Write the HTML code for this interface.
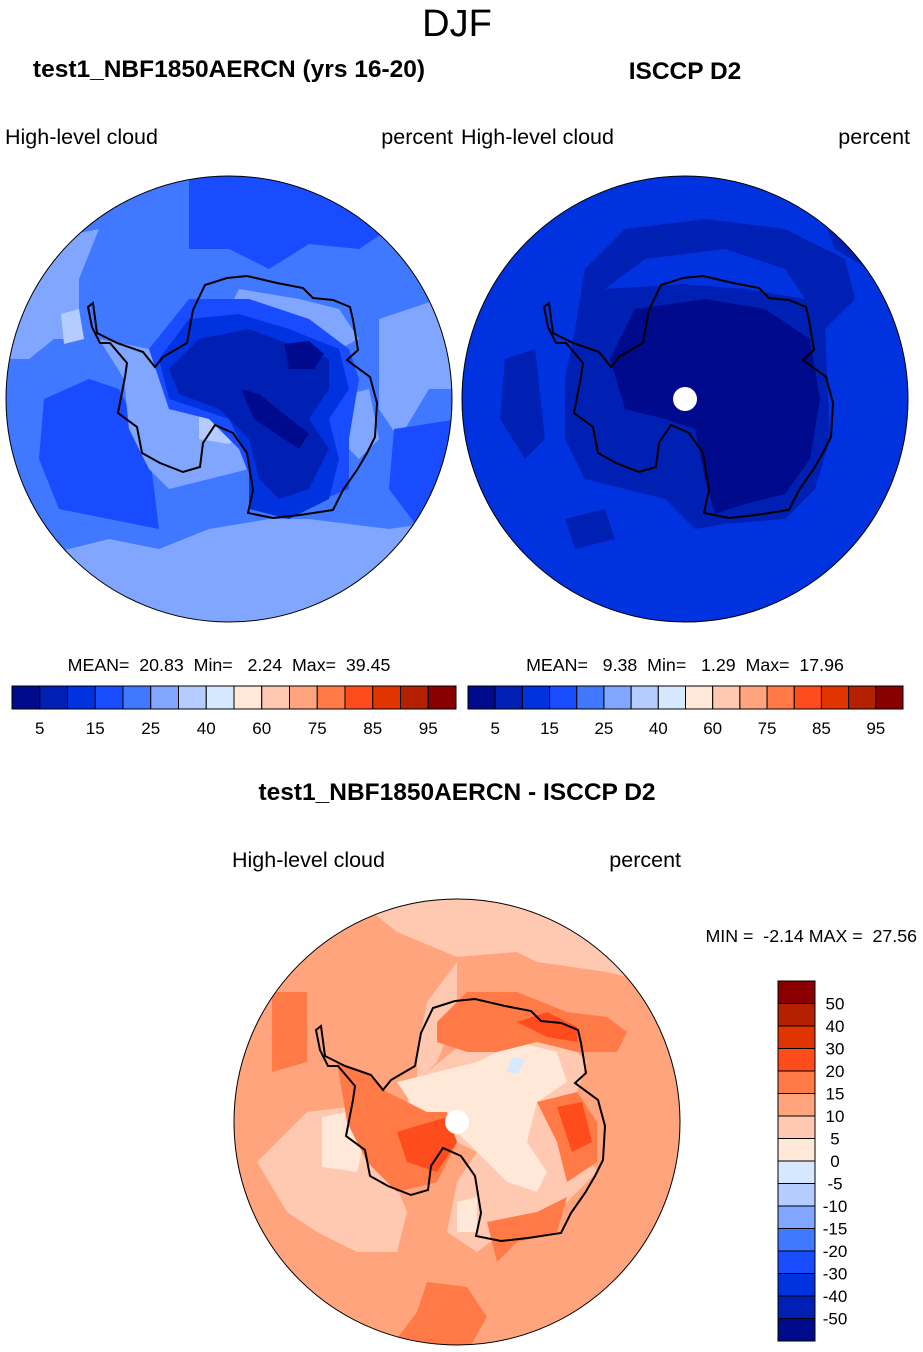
<!DOCTYPE html>
<html><head><meta charset="utf-8"><style>
body{margin:0;background:#fff;}
svg{display:block;font-family:"Liberation Sans",Arial,sans-serif;}
</style></head><body>
<svg id="fig" width="923" height="1352" viewBox="0 0 923 1352" xmlns="http://www.w3.org/2000/svg">
<defs>
<clipPath id="cc"><circle cx="0" cy="0" r="223"/></clipPath>
<path id="coast" fill="none" stroke="#000" stroke-width="2" d="M-24,-114 L-2,-121 L18,-123 L48,-116 L74,-111 L84,-101 L104,-99 L121,-92 L124,-79 L129,-49 L118,-39 L141,-22 L148,4 L146,38 L138,54 L128,71 L114,91 L104,111 L71,116 L44,119 L19,114 L24,91 L18,54 L4,34 L-14,26 L-26,44 L-29,68 L-46,73 L-69,64 L-87,54 L-92,28 L-111,14 L-104,-22 L-102,-36 L-119,-56 L-129,-56 L-137,-72 L-141,-92 L-136,-96 L-132,-66 L-112,-56 L-86,-47 L-74,-32 L-66,-42 L-42,-56 L-36,-89 Z"/>
</defs>

<text x="457" y="36" font-size="38" text-anchor="middle">DJF</text>

<g>
<text x="229" y="77" font-size="24.5" font-weight="bold" text-anchor="middle">test1_NBF1850AERCN (yrs 16-20)</text>
<text x="5" y="144" font-size="21.5">High-level cloud</text>
<text x="453" y="144" font-size="21.5" text-anchor="end">percent</text>
<g transform="translate(229,399)">
<g clip-path="url(#cc)">
<rect x="-230" y="-230" width="460" height="460" fill="#4078ff"/>
<path fill="#80a6ff" d="M-230,160 L-160,150 L-120,140 L-70,150 L-20,130 L40,120 L80,120 L120,125 L160,130 L230,120 L230,230 L-230,230 Z"/>
<path fill="#80a6ff" d="M-230,-40 L-200,-40 L-175,-60 L-150,-60 L-150,-120 L-130,-170 L-230,-150 Z"/>
<path fill="#b4ccff" d="M-168,-85 L-150,-90 L-145,-60 L-165,-55 Z"/>
<path fill="#80a6ff" d="M150,-80 L210,-100 L230,-60 L230,-10 L200,-10 L170,40 L150,10 L150,-40 Z"/>
<path fill="#1a4cff" d="M-40,-230 L150,-230 L160,-170 L130,-150 L80,-155 L40,-130 L0,-150 L-40,-150 Z"/>
<path fill="#1a4cff" d="M-185,0 L-140,-20 L-110,-10 L-80,50 L-70,130 L-120,120 L-170,110 L-190,60 Z"/>
<path fill="#1a4cff" d="M165,30 L230,20 L230,110 L190,130 L160,90 Z"/>
<path fill="#80a6ff" d="M-130,-60 L-80,-50 L-60,-20 L-30,0 L10,10 L30,40 L20,70 L-20,80 L-60,90 L-80,70 L-100,30 L-105,-20 Z"/>
<path fill="#b4ccff" d="M-30,15 L0,8 L20,30 L0,45 L-30,40 Z"/>
<path fill="#80a6ff" d="M10,-110 L70,-100 L110,-90 L130,-60 L110,-50 L80,-60 L30,-80 L0,-90 Z"/>
<path fill="#80a6ff" d="M100,0 L140,-10 L150,40 L130,60 L110,40 Z"/>
<path fill="#1a4cff" d="M-80,-50 L-40,-100 L20,-100 L80,-80 L120,-50 L130,-20 L120,40 L120,90 L70,110 L30,100 L10,50 L-20,20 L-60,10 Z"/>
<path fill="#0032e0" d="M-70,-40 L-40,-80 L10,-85 L60,-70 L110,-50 L120,-10 L100,20 L110,60 L100,100 L60,120 L20,110 L20,60 L0,20 L-30,10 L-60,0 Z"/>
<path fill="#0020b4" d="M-60,-30 L-30,-60 L20,-70 L60,-55 L100,-40 L100,-10 L80,20 L100,50 L80,90 L50,100 L30,80 L20,40 L-10,10 L-50,-5 Z"/>
<path fill="#000a8c" d="M55,-55 L80,-58 L95,-45 L85,-30 L60,-30 Z"/>
<path fill="#000a8c" d="M12,-10 L30,-5 L80,35 L70,50 L25,20 Z"/>
</g>
<use href="#coast"/>
<circle r="223" fill="none" stroke="#000" stroke-width="1"/>
</g>
<text x="229" y="671" font-size="17.8" text-anchor="middle" xml:space="preserve">MEAN=  20.83  Min=   2.24  Max=  39.45</text>
<g id="cb1"></g>
</g>

<g>
<text x="685" y="79" font-size="24.5" font-weight="bold" text-anchor="middle">ISCCP D2</text>
<text x="461" y="144" font-size="21.5">High-level cloud</text>
<text x="910" y="144" font-size="21.5" text-anchor="end">percent</text>
<g transform="translate(685,399)">
<g clip-path="url(#cc)">
<rect x="-230" y="-230" width="460" height="460" fill="#0032e0"/>
<path fill="#0020b4" d="M-100,-130 L-60,-170 L20,-180 L100,-170 L160,-140 L170,-100 L140,-70 L145,40 L130,90 L100,120 L40,125 L10,130 L-20,100 L-60,90 L-100,80 L-120,40 L-120,-20 L-110,-70 Z"/>
<path fill="#0032e0" d="M-80,-110 L-40,-140 L40,-150 L100,-130 L120,-100 L60,-110 L0,-115 Z"/>
<path fill="#0020b4" d="M130,-200 L230,-180 L230,-100 L200,-120 L150,-150 Z"/>
<path fill="#0020b4" d="M-180,-40 L-150,-50 L-140,40 L-160,60 L-185,20 Z"/>
<path fill="#0020b4" d="M-120,120 L-80,110 L-70,140 L-110,150 Z"/>
<path fill="#000a8c" d="M-75,-40 L-50,-90 L20,-100 L80,-90 L125,-60 L135,0 L125,60 L100,95 L60,105 L30,115 L20,80 L10,30 L-20,20 L-60,10 Z"/>
</g>
<use href="#coast"/>
<circle r="12" fill="#fff"/>
<circle r="223" fill="none" stroke="#000" stroke-width="1"/>
</g>
<text x="685" y="671" font-size="17.8" text-anchor="middle" xml:space="preserve">MEAN=   9.38  Min=   1.29  Max=  17.96</text>
<g id="cb2"></g>
</g>

<g>
<text x="457" y="800" font-size="24.5" font-weight="bold" text-anchor="middle">test1_NBF1850AERCN - ISCCP D2</text>
<text x="232" y="867" font-size="21.5">High-level cloud</text>
<text x="681" y="867" font-size="21.5" text-anchor="end">percent</text>
<text x="917" y="942" font-size="17.8" text-anchor="end" xml:space="preserve">MIN =  -2.14 MAX =  27.56</text>
<g transform="translate(457,1122)">
<g clip-path="url(#cc)">
<rect x="-230" y="-230" width="460" height="460" fill="#ffa47c"/>
<path fill="#ffc8b0" d="M-110,-230 L230,-230 L230,-130 L150,-150 L80,-160 L60,-170 L0,-165 L-60,-190 Z"/>
<path fill="#ffc8b0" d="M-200,40 L-150,-10 L-110,-15 L-70,40 L-50,90 L-60,130 L-100,130 L-140,110 L-170,90 Z"/>
<path fill="#ffe8d8" d="M-135,-5 L-110,-10 L-95,30 L-100,50 L-135,45 Z"/>
<path fill="#ffc8b0" d="M-30,-120 L0,-160 L0,-110 L-20,-60 L-40,-40 L-40,-70 Z"/>
<path fill="#ffc8b0" d="M-30,-50 L20,-90 L100,-90 L130,-60 L110,0 L140,50 L110,80 L60,100 L20,130 L-10,110 L0,60 L20,30 L-20,10 L-50,-20 Z"/>
<path fill="#ffe8d8" d="M-60,-40 L-20,-50 L20,-60 L60,-80 L100,-70 L110,-40 L80,-20 L70,20 L90,50 L80,70 L50,60 L20,30 L-10,0 L-40,-10 Z"/>
<path fill="#ffe8d8" d="M0,80 L20,75 L20,110 L0,110 Z"/>
<path fill="#d6e8ff" d="M55,-65 L68,-62 L60,-48 L50,-50 Z"/>
<path fill="#ff7a46" d="M-20,-100 L10,-130 L60,-130 L110,-110 L150,-105 L170,-90 L160,-70 L120,-70 L80,-80 L40,-70 L10,-70 L-20,-80 Z"/>
<path fill="#ff4c1c" d="M60,-100 L90,-110 L120,-95 L120,-80 L90,-85 Z"/>
<path fill="#ff7a46" d="M-120,-60 L-90,-50 L-70,-30 L-30,-10 L-10,-10 L0,20 L-20,60 L-60,70 L-90,40 L-110,0 Z"/>
<path fill="#ff4c1c" d="M-60,10 L-10,-5 L0,20 L-20,50 L-50,40 Z"/>
<path fill="#ff7a46" d="M80,-20 L120,-30 L140,0 L140,40 L110,60 L100,20 Z"/>
<path fill="#ff4c1c" d="M100,-15 L125,-20 L135,20 L115,30 Z"/>
<path fill="#ff7a46" d="M30,100 L80,90 L110,75 L100,110 L60,120 L40,140 Z"/>
<path fill="#ff7a46" d="M-185,-130 L-150,-130 L-150,-60 L-185,-50 Z"/>
<path fill="#ff7a46" d="M-30,160 L10,165 L30,195 L10,230 L-70,230 L-40,190 Z"/>
</g>
<use href="#coast"/>
<circle r="12" fill="#fff"/>
<circle r="223" fill="none" stroke="#000" stroke-width="1"/>
</g>
<g id="cb3"></g>
</g>
</svg>
<script>
const colors = ['#000a8c','#0020b4','#0032e0','#1a4cff','#4078ff','#80a6ff','#b4ccff','#d6e8ff','#ffe8d8','#ffc8b0','#ffa47c','#ff7a46','#ff4c1c','#e23400','#b42000','#8a0000'];
const topLabels = ['5','15','25','40','60','75','85','95'];
const diffLabels = ['50','40','30','20','15','10','5','0','-5','-10','-15','-20','-30','-40','-50'];
const NS='http://www.w3.org/2000/svg';
function mk(tag, attrs, parent){const e=document.createElementNS(NS,tag);for(const k in attrs)e.setAttribute(k,attrs[k]);parent.appendChild(e);return e;}
function hbar(id, x0, x1, y, h){
  const g=document.getElementById(id); const w=(x1-x0)/colors.length;
  colors.forEach((c,i)=>{const r=mk('rect',{x:x0+i*w,y:y,width:w,height:h,fill:c,stroke:'#000','stroke-width':1},g);
    
    });
  topLabels.forEach((t,i)=>{const tx=mk('text',{x:x0+(2*i+1)*w,y:y+h+25,'font-size':17,'text-anchor':'middle'},g);tx.textContent=t;
    
    });
}
hbar('cb1',12,456,686,23);
hbar('cb2',468,903,686,23);
(function(){
  const g=document.getElementById('cb3'); const x=778,w=37,y0=981,y1=1341,h=(y1-y0)/colors.length;
  colors.slice().reverse().forEach((c,i)=>{const r=mk('rect',{x:x,y:y0+i*h,width:w,height:h,fill:c,stroke:'#000','stroke-width':1},g);
    
    });
  diffLabels.forEach((t,i)=>{const tx=mk('text',{x:835,y:y0+(i+1)*h+6,'font-size':17,'text-anchor':'middle'},g);tx.textContent=t;
    
    });
})();
</script>
</body></html>
